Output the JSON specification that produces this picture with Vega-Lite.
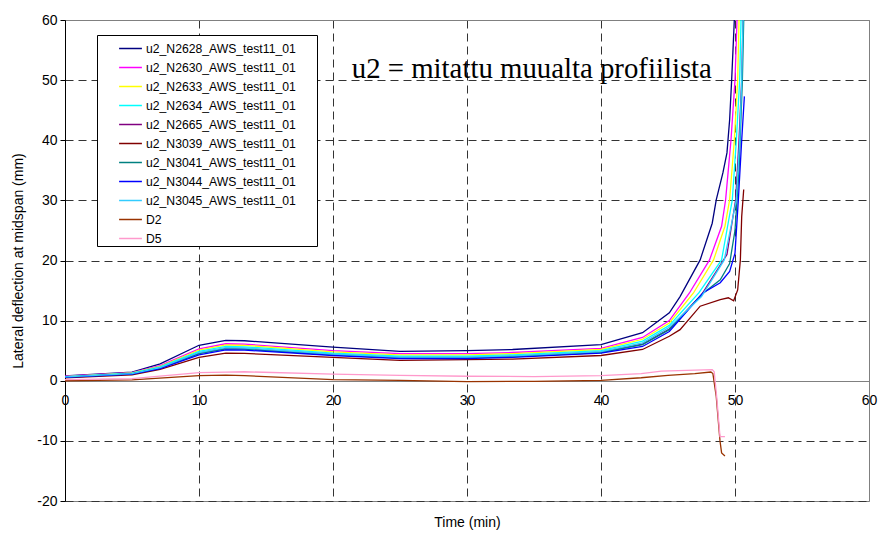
{
  "$schema": "https://vega.github.io/schema/vega-lite/v6.json",
  "autosize": {"type": "none"},
  "padding": {"left": 65, "top": 20, "right": 10, "bottom": 33},
  "width": 804,
  "height": 481,
  "background": "white",
  "config": {
    "view": {"stroke": "#808080", "strokeWidth": 1},
    "font": "Liberation Sans"
  },
  "datasets": {
    "series": [
      {"series":"u2_N2628_AWS_test11_01","t":0,"v":0.8},{"series":"u2_N2628_AWS_test11_01","t":5,"v":1.45},{"series":"u2_N2628_AWS_test11_01","t":7.1,"v":2.8},{"series":"u2_N2628_AWS_test11_01","t":10,"v":5.9},{"series":"u2_N2628_AWS_test11_01","t":12,"v":6.7},{"series":"u2_N2628_AWS_test11_01","t":13.4,"v":6.65},{"series":"u2_N2628_AWS_test11_01","t":20,"v":5.6},{"series":"u2_N2628_AWS_test11_01","t":25,"v":4.9},{"series":"u2_N2628_AWS_test11_01","t":30,"v":5.0},{"series":"u2_N2628_AWS_test11_01","t":33.4,"v":5.2},{"series":"u2_N2628_AWS_test11_01","t":40,"v":6.0},{"series":"u2_N2628_AWS_test11_01","t":43.1,"v":8.0},{"series":"u2_N2628_AWS_test11_01","t":45.1,"v":11.3},{"series":"u2_N2628_AWS_test11_01","t":45.9,"v":14.0},{"series":"u2_N2628_AWS_test11_01","t":47.4,"v":20.1},{"series":"u2_N2628_AWS_test11_01","t":48.3,"v":26.2},{"series":"u2_N2628_AWS_test11_01","t":48.6,"v":30.1},{"series":"u2_N2628_AWS_test11_01","t":49.1,"v":34.6},{"series":"u2_N2628_AWS_test11_01","t":49.4,"v":37.9},{"series":"u2_N2628_AWS_test11_01","t":49.6,"v":43.4},{"series":"u2_N2628_AWS_test11_01","t":49.75,"v":50},{"series":"u2_N2628_AWS_test11_01","t":49.95,"v":60},
      {"series":"u2_N2630_AWS_test11_01","t":0,"v":0.75},{"series":"u2_N2630_AWS_test11_01","t":5,"v":1.35},{"series":"u2_N2630_AWS_test11_01","t":7.1,"v":2.5},{"series":"u2_N2630_AWS_test11_01","t":10,"v":5.3},{"series":"u2_N2630_AWS_test11_01","t":12,"v":6.15},{"series":"u2_N2630_AWS_test11_01","t":13.4,"v":6.1},{"series":"u2_N2630_AWS_test11_01","t":20,"v":5.0},{"series":"u2_N2630_AWS_test11_01","t":25,"v":4.5},{"series":"u2_N2630_AWS_test11_01","t":30,"v":4.5},{"series":"u2_N2630_AWS_test11_01","t":33.4,"v":4.7},{"series":"u2_N2630_AWS_test11_01","t":40,"v":5.4},{"series":"u2_N2630_AWS_test11_01","t":43.1,"v":7.2},{"series":"u2_N2630_AWS_test11_01","t":45.1,"v":10.0},{"series":"u2_N2630_AWS_test11_01","t":46.6,"v":14.6},{"series":"u2_N2630_AWS_test11_01","t":48.1,"v":20.1},{"series":"u2_N2630_AWS_test11_01","t":49.0,"v":25.7},{"series":"u2_N2630_AWS_test11_01","t":49.3,"v":30.1},{"series":"u2_N2630_AWS_test11_01","t":49.7,"v":40},{"series":"u2_N2630_AWS_test11_01","t":50.0,"v":50},{"series":"u2_N2630_AWS_test11_01","t":50.15,"v":60},
      {"series":"u2_N2633_AWS_test11_01","t":0,"v":0.7},{"series":"u2_N2633_AWS_test11_01","t":5,"v":1.3},{"series":"u2_N2633_AWS_test11_01","t":7.1,"v":2.4},{"series":"u2_N2633_AWS_test11_01","t":10,"v":5.1},{"series":"u2_N2633_AWS_test11_01","t":12,"v":5.95},{"series":"u2_N2633_AWS_test11_01","t":13.4,"v":5.9},{"series":"u2_N2633_AWS_test11_01","t":20,"v":4.8},{"series":"u2_N2633_AWS_test11_01","t":25,"v":4.3},{"series":"u2_N2633_AWS_test11_01","t":30,"v":4.3},{"series":"u2_N2633_AWS_test11_01","t":33.4,"v":4.5},{"series":"u2_N2633_AWS_test11_01","t":40,"v":5.2},{"series":"u2_N2633_AWS_test11_01","t":43.1,"v":6.9},{"series":"u2_N2633_AWS_test11_01","t":45.1,"v":9.6},{"series":"u2_N2633_AWS_test11_01","t":46.9,"v":14.6},{"series":"u2_N2633_AWS_test11_01","t":48.4,"v":20.1},{"series":"u2_N2633_AWS_test11_01","t":49.25,"v":25.7},{"series":"u2_N2633_AWS_test11_01","t":49.6,"v":30.1},{"series":"u2_N2633_AWS_test11_01","t":49.95,"v":40},{"series":"u2_N2633_AWS_test11_01","t":50.2,"v":50},{"series":"u2_N2633_AWS_test11_01","t":50.3,"v":60},
      {"series":"u2_N2634_AWS_test11_01","t":0,"v":0.7},{"series":"u2_N2634_AWS_test11_01","t":5,"v":1.25},{"series":"u2_N2634_AWS_test11_01","t":7.1,"v":2.3},{"series":"u2_N2634_AWS_test11_01","t":10,"v":4.9},{"series":"u2_N2634_AWS_test11_01","t":12,"v":5.7},{"series":"u2_N2634_AWS_test11_01","t":13.4,"v":5.65},{"series":"u2_N2634_AWS_test11_01","t":20,"v":4.6},{"series":"u2_N2634_AWS_test11_01","t":25,"v":4.1},{"series":"u2_N2634_AWS_test11_01","t":30,"v":4.1},{"series":"u2_N2634_AWS_test11_01","t":33.4,"v":4.3},{"series":"u2_N2634_AWS_test11_01","t":40,"v":5.0},{"series":"u2_N2634_AWS_test11_01","t":43.1,"v":6.6},{"series":"u2_N2634_AWS_test11_01","t":45.1,"v":9.2},{"series":"u2_N2634_AWS_test11_01","t":47.3,"v":14.6},{"series":"u2_N2634_AWS_test11_01","t":49.0,"v":20.1},{"series":"u2_N2634_AWS_test11_01","t":49.8,"v":30.1},{"series":"u2_N2634_AWS_test11_01","t":50.1,"v":40},{"series":"u2_N2634_AWS_test11_01","t":50.35,"v":50},{"series":"u2_N2634_AWS_test11_01","t":50.45,"v":60},
      {"series":"u2_N2665_AWS_test11_01","t":0,"v":0.6},{"series":"u2_N2665_AWS_test11_01","t":5,"v":1.15},{"series":"u2_N2665_AWS_test11_01","t":7.1,"v":2.1},{"series":"u2_N2665_AWS_test11_01","t":10,"v":4.6},{"series":"u2_N2665_AWS_test11_01","t":12,"v":5.4},{"series":"u2_N2665_AWS_test11_01","t":13.4,"v":5.35},{"series":"u2_N2665_AWS_test11_01","t":20,"v":4.35},{"series":"u2_N2665_AWS_test11_01","t":25,"v":3.85},{"series":"u2_N2665_AWS_test11_01","t":30,"v":3.85},{"series":"u2_N2665_AWS_test11_01","t":33.4,"v":4.05},{"series":"u2_N2665_AWS_test11_01","t":40,"v":4.75},{"series":"u2_N2665_AWS_test11_01","t":43.1,"v":6.1},{"series":"u2_N2665_AWS_test11_01","t":45.1,"v":8.6},{"series":"u2_N2665_AWS_test11_01","t":47.5,"v":14.3},{"series":"u2_N2665_AWS_test11_01","t":49.4,"v":21},{"series":"u2_N2665_AWS_test11_01","t":50.05,"v":30.1},{"series":"u2_N2665_AWS_test11_01","t":50.3,"v":40},{"series":"u2_N2665_AWS_test11_01","t":50.5,"v":50},{"series":"u2_N2665_AWS_test11_01","t":50.6,"v":60},
      {"series":"u2_N3039_AWS_test11_01","t":0,"v":0.5},{"series":"u2_N3039_AWS_test11_01","t":5,"v":1.0},{"series":"u2_N3039_AWS_test11_01","t":7.1,"v":1.9},{"series":"u2_N3039_AWS_test11_01","t":10,"v":3.9},{"series":"u2_N3039_AWS_test11_01","t":12,"v":4.6},{"series":"u2_N3039_AWS_test11_01","t":13.4,"v":4.55},{"series":"u2_N3039_AWS_test11_01","t":20,"v":3.9},{"series":"u2_N3039_AWS_test11_01","t":25,"v":3.4},{"series":"u2_N3039_AWS_test11_01","t":30,"v":3.5},{"series":"u2_N3039_AWS_test11_01","t":33.4,"v":3.6},{"series":"u2_N3039_AWS_test11_01","t":40,"v":4.2},{"series":"u2_N3039_AWS_test11_01","t":43.1,"v":5.2},{"series":"u2_N3039_AWS_test11_01","t":45.1,"v":7.4},{"series":"u2_N3039_AWS_test11_01","t":45.9,"v":8.5},{"series":"u2_N3039_AWS_test11_01","t":47.4,"v":12.4},{"series":"u2_N3039_AWS_test11_01","t":48.9,"v":13.5},{"series":"u2_N3039_AWS_test11_01","t":49.5,"v":13.8},{"series":"u2_N3039_AWS_test11_01","t":49.9,"v":13.3},{"series":"u2_N3039_AWS_test11_01","t":50.2,"v":15.1},{"series":"u2_N3039_AWS_test11_01","t":50.4,"v":20.1},{"series":"u2_N3039_AWS_test11_01","t":50.5,"v":27.3},{"series":"u2_N3039_AWS_test11_01","t":50.65,"v":31.8},
      {"series":"u2_N3041_AWS_test11_01","t":0,"v":0.6},{"series":"u2_N3041_AWS_test11_01","t":5,"v":1.15},{"series":"u2_N3041_AWS_test11_01","t":7.1,"v":2.1},{"series":"u2_N3041_AWS_test11_01","t":10,"v":4.5},{"series":"u2_N3041_AWS_test11_01","t":12,"v":5.3},{"series":"u2_N3041_AWS_test11_01","t":13.4,"v":5.25},{"series":"u2_N3041_AWS_test11_01","t":20,"v":4.3},{"series":"u2_N3041_AWS_test11_01","t":25,"v":3.8},{"series":"u2_N3041_AWS_test11_01","t":30,"v":3.8},{"series":"u2_N3041_AWS_test11_01","t":33.4,"v":4.0},{"series":"u2_N3041_AWS_test11_01","t":40,"v":4.7},{"series":"u2_N3041_AWS_test11_01","t":43.1,"v":6.0},{"series":"u2_N3041_AWS_test11_01","t":45.1,"v":8.5},{"series":"u2_N3041_AWS_test11_01","t":47.6,"v":14.5},{"series":"u2_N3041_AWS_test11_01","t":48.9,"v":16.8},{"series":"u2_N3041_AWS_test11_01","t":49.6,"v":19.5},{"series":"u2_N3041_AWS_test11_01","t":50.0,"v":25},{"series":"u2_N3041_AWS_test11_01","t":50.3,"v":35},{"series":"u2_N3041_AWS_test11_01","t":50.55,"v":50},{"series":"u2_N3041_AWS_test11_01","t":50.65,"v":60},
      {"series":"u2_N3044_AWS_test11_01","t":0,"v":0.55},{"series":"u2_N3044_AWS_test11_01","t":5,"v":1.1},{"series":"u2_N3044_AWS_test11_01","t":7.1,"v":2.0},{"series":"u2_N3044_AWS_test11_01","t":10,"v":4.3},{"series":"u2_N3044_AWS_test11_01","t":12,"v":5.15},{"series":"u2_N3044_AWS_test11_01","t":13.4,"v":5.1},{"series":"u2_N3044_AWS_test11_01","t":20,"v":4.2},{"series":"u2_N3044_AWS_test11_01","t":25,"v":3.7},{"series":"u2_N3044_AWS_test11_01","t":30,"v":3.7},{"series":"u2_N3044_AWS_test11_01","t":33.4,"v":3.9},{"series":"u2_N3044_AWS_test11_01","t":40,"v":4.6},{"series":"u2_N3044_AWS_test11_01","t":43.1,"v":5.7},{"series":"u2_N3044_AWS_test11_01","t":45.1,"v":8.2},{"series":"u2_N3044_AWS_test11_01","t":47.6,"v":14.6},{"series":"u2_N3044_AWS_test11_01","t":48.9,"v":16.3},{"series":"u2_N3044_AWS_test11_01","t":49.6,"v":18.2},{"series":"u2_N3044_AWS_test11_01","t":50.0,"v":21.2},{"series":"u2_N3044_AWS_test11_01","t":50.25,"v":30.1},{"series":"u2_N3044_AWS_test11_01","t":50.5,"v":40},{"series":"u2_N3044_AWS_test11_01","t":50.7,"v":47.3},
      {"series":"u2_N3045_AWS_test11_01","t":0,"v":0.65},{"series":"u2_N3045_AWS_test11_01","t":5,"v":1.2},{"series":"u2_N3045_AWS_test11_01","t":7.1,"v":2.2},{"series":"u2_N3045_AWS_test11_01","t":10,"v":4.7},{"series":"u2_N3045_AWS_test11_01","t":12,"v":5.5},{"series":"u2_N3045_AWS_test11_01","t":13.4,"v":5.45},{"series":"u2_N3045_AWS_test11_01","t":20,"v":4.45},{"series":"u2_N3045_AWS_test11_01","t":25,"v":3.95},{"series":"u2_N3045_AWS_test11_01","t":30,"v":3.95},{"series":"u2_N3045_AWS_test11_01","t":33.4,"v":4.15},{"series":"u2_N3045_AWS_test11_01","t":40,"v":4.85},{"series":"u2_N3045_AWS_test11_01","t":43.1,"v":6.3},{"series":"u2_N3045_AWS_test11_01","t":45.1,"v":8.9},{"series":"u2_N3045_AWS_test11_01","t":47.5,"v":14.0},{"series":"u2_N3045_AWS_test11_01","t":49.2,"v":20.1},{"series":"u2_N3045_AWS_test11_01","t":50.1,"v":30.1},{"series":"u2_N3045_AWS_test11_01","t":50.35,"v":40},{"series":"u2_N3045_AWS_test11_01","t":50.5,"v":50},{"series":"u2_N3045_AWS_test11_01","t":50.6,"v":60},
      {"series":"D2","t":0,"v":0},{"series":"D2","t":5,"v":0.15},{"series":"D2","t":10,"v":0.85},{"series":"D2","t":12,"v":0.95},{"series":"D2","t":13.4,"v":0.85},{"series":"D2","t":20,"v":0.2},{"series":"D2","t":25,"v":0.05},{"series":"D2","t":30,"v":-0.15},{"series":"D2","t":35,"v":-0.1},{"series":"D2","t":40,"v":0.05},{"series":"D2","t":43,"v":0.5},{"series":"D2","t":45,"v":0.9},{"series":"D2","t":47,"v":1.2},{"series":"D2","t":48.2,"v":1.45},{"series":"D2","t":48.35,"v":1.2},{"series":"D2","t":48.6,"v":-2.6},{"series":"D2","t":48.88,"v":-10},{"series":"D2","t":49.0,"v":-12},{"series":"D2","t":49.25,"v":-12.5},
      {"series":"D5","t":0,"v":0.2},{"series":"D5","t":5,"v":0.35},{"series":"D5","t":10,"v":1.35},{"series":"D5","t":12,"v":1.45},{"series":"D5","t":13.4,"v":1.5},{"series":"D5","t":20,"v":1.1},{"series":"D5","t":25,"v":0.9},{"series":"D5","t":30,"v":0.75},{"series":"D5","t":35,"v":0.7},{"series":"D5","t":40,"v":0.85},{"series":"D5","t":43,"v":1.2},{"series":"D5","t":44.5,"v":1.6},{"series":"D5","t":48.3,"v":1.85},{"series":"D5","t":48.45,"v":1.5},{"series":"D5","t":48.63,"v":-2.6},{"series":"D5","t":48.88,"v":-9.3},{"series":"D5","t":49.25,"v":-9.3}
    ],
    "note": [{"t": 21.4, "v": 50.4, "label": "u2 = mitattu muualta profiilista"}]
  },
  "layer": [
    {
      "data": {"name": "series"},
      "mark": {"type": "line", "strokeWidth": 1.3, "clip": true},
      "encoding": {
        "x": {
          "field": "t", "type": "quantitative",
          "scale": {"domain": [0, 60], "nice": false, "zero": false},
          "axis": {
            "title": "Time (min)",
            "titleFont": "Liberation Sans", "titleFontSize": 14, "titleFontWeight": "normal", "titleColor": "black",
            "titleX": 402, "titleY": 141, "titleBaseline": "middle", "titleAnchor": null,
            "offset": -120,
            "values": [0, 10, 20, 30, 40, 50, 60],
            "domainColor": "#808080", "domainWidth": 1,
            "ticks": false,
            "labelFont": "Liberation Sans", "labelFontSize": 14, "labelColor": "black", "labelPadding": 12,
            "labelFlush": false, "labelOverlap": false,
            "grid": true,
            "gridColor": {"condition": {"test": "datum.value === 0 || datum.value === 60", "value": "#808080"}, "value": "#333333"},
            "gridDash": {"condition": {"test": "datum.value === 0 || datum.value === 60", "value": []}, "value": [8, 5]},
            "gridWidth": 1
          }
        },
        "y": {
          "field": "v", "type": "quantitative",
          "scale": {"domain": [-20, 60], "nice": false, "zero": false},
          "axis": {
            "title": "Lateral deflection at midspan (mm)",
            "titleFont": "Liberation Sans", "titleFontSize": 14, "titleFontWeight": "normal", "titleColor": "black",
            "titlePadding": 11,
            "values": [-20, -10, 0, 10, 20, 30, 40, 50, 60],
            "labelExpr": "'' + datum.value",
            "domainColor": "black", "domainWidth": 1,
            "tickColor": "black", "tickSize": 5,
            "labelFont": "Liberation Sans", "labelFontSize": 14, "labelColor": "black", "labelPadding": 3,
            "labelFlush": false, "labelOverlap": false,
            "grid": true,
            "gridColor": {"condition": {"test": "datum.value === 0 || datum.value === 60", "value": "#808080"}, "value": "#333333"},
            "gridDash": {"condition": {"test": "datum.value === 0 || datum.value === 60", "value": []}, "value": [8, 5]},
            "gridWidth": 1
          }
        },
        "color": {
          "field": "series", "type": "nominal",
          "scale": {
            "domain": ["u2_N2628_AWS_test11_01","u2_N2630_AWS_test11_01","u2_N2633_AWS_test11_01","u2_N2634_AWS_test11_01","u2_N2665_AWS_test11_01","u2_N3039_AWS_test11_01","u2_N3041_AWS_test11_01","u2_N3044_AWS_test11_01","u2_N3045_AWS_test11_01","D2","D5"],
            "range": ["#000080","#FF00FF","#FFFF00","#00FFFF","#800080","#800000","#008080","#0000FF","#33CCFF","#993300","#FF99CC"]
          },
          "legend": {
            "title": " ",
            "titleOrient": "right",
            "titlePadding": 20,
            "titleFontSize": 6,
            "orient": "none", "legendX": 32, "legendY": 15,
            "symbolType": "stroke", "symbolSize": 520, "symbolStrokeWidth": 1.5,
            "labelFont": "Liberation Sans", "labelFontSize": 12.2, "labelColor": "black", "labelLimit": 300,
            "labelOffset": 3,
            "strokeColor": "black", "fillColor": "white", "padding": 1,
            "symbolOffset": 20,
            "rowPadding": 0
          }
        }
      }
    },
    {
      "data": {"name": "note"},
      "mark": {"type": "text", "font": "Liberation Serif", "fontSize": 28.8, "align": "left", "baseline": "alphabetic", "color": "black"},
      "encoding": {
        "x": {"field": "t", "type": "quantitative"},
        "y": {"field": "v", "type": "quantitative"},
        "text": {"field": "label"}
      }
    }
  ]
}
